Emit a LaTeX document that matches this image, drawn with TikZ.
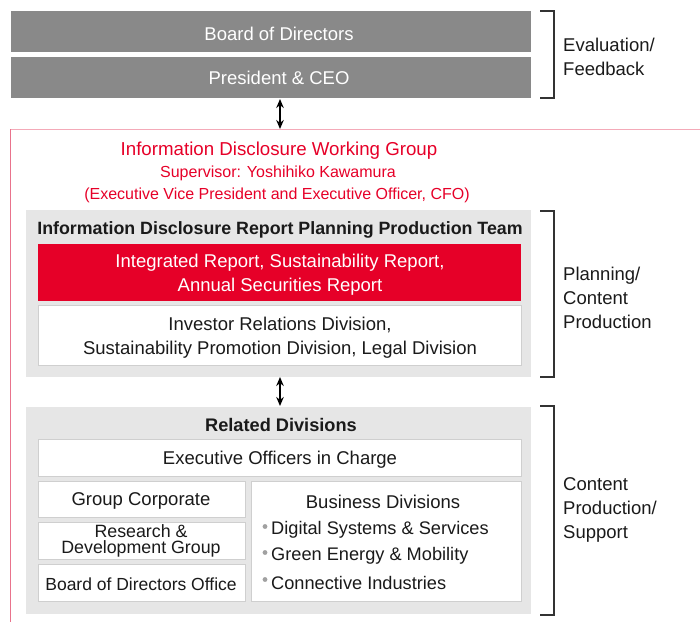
\documentclass[tikz,border=0pt]{standalone}
\usepackage{fontspec}
\setmainfont{Liberation Sans}
\usetikzlibrary{arrows.meta}
\definecolor{hgray}{HTML}{898989}
\definecolor{panelgray}{HTML}{E6E6E6}
\definecolor{boxline}{HTML}{CFCFCF}
\definecolor{hred}{HTML}{E60028}
\definecolor{pinktop}{HTML}{F4AAB8}
\definecolor{pinkleft}{HTML}{E9738C}
\definecolor{txt}{HTML}{1A1A1A}
\tikzset{
  x=1pt, y=-1pt,
  mainfont/.style={font=\fontsize{18.5}{24}\selectfont},
  subfont/.style={font=\fontsize{16}{22}\selectfont},
  boldfont/.style={font=\bfseries\fontsize{17.8}{22}\selectfont},
  graybox/.style={fill=hgray, draw=none},
  panel/.style={fill=panelgray, draw=none},
  whitebox/.style={fill=white, draw=boxline, line width=0.8pt},
  redbox/.style={fill=hred, draw=none},
  bracketline/.style={draw=black!80, line width=1.1pt},
  dblarrow/.style={{Stealth[length=9pt,width=7.5pt]}-{Stealth[length=9pt,width=7.5pt]}, line width=1.5pt, black},
  lbl/.style={mainfont, text=txt, inner sep=0pt},
  rlbl/.style={mainfont, text=txt, inner sep=0pt, anchor=west, align=left},
  dotb/.style={fill=hgray!80, draw=none}
}
\begin{document}
\begin{tikzpicture}
\useasboundingbox (0,0) rectangle (700,622);
% top gray boxes
\draw[graybox] (11,11) rectangle (531,52);
\draw[graybox] (11,57) rectangle (531,98);
\node[lbl, text=white] (bod) at (279,34) {Board of Directors};
\node[lbl, text=white] (ceo) at (279,78) {President \& CEO};
\coordinate (ceoB) at (280,99);
% bracket 1
\draw[bracketline] (540,11) -- (554,11) -- (554,98) -- (540,98);
\node[rlbl] (evl) at (563,57) {Evaluation/\\Feedback};
% pink frame
\draw[pinktop, line width=1.2pt] (10,129.5) -- (700,129.5);
\draw[pinkleft, line width=1.2pt] (10.5,129) -- (10.5,622);
\coordinate (frameT) at (280,129);
\draw[dblarrow] (ceoB) -- (frameT);
% working group texts
\node[font=\fontsize{18.7}{24}\selectfont, text=hred, inner sep=0pt] (wg) at (279,151) {Information Disclosure Working Group};
\node[subfont, text=hred, inner sep=0pt] (sup) at (278,173) {Supervisor: Yoshihiko Kawamura};
\node[subfont, text=hred, inner sep=0pt] (evp) at (277,195) {(Executive Vice President and Executive Officer, CFO)};
% panel 1
\draw[panel] (26,210) rectangle (531,377);
\node[boldfont, text=txt, inner sep=0pt] (team) at (280,230) {Information Disclosure Report Planning Production Team};
\draw[redbox] (38,244) rectangle (521,301);
\node[lbl, text=white, align=center] (rep) at (280,275) {Integrated Report, Sustainability Report,\\Annual Securities Report};
\draw[whitebox] (38,305) rectangle (521,365);
\node[lbl, align=center] (irdiv) at (280,338) {Investor Relations Division,\\Sustainability Promotion Division, Legal Division};
% bracket 2
\draw[bracketline] (540,211) -- (554,211) -- (554,377) -- (540,377);
\node[rlbl] (plan) at (563,298) {Planning/\\Content\\Production};
% arrow 2
\coordinate (p1B) at (280,377);
\coordinate (p2T) at (280,406);
\draw[dblarrow] (p1B) -- (p2T);
% panel 2
\draw[panel] (26,407) rectangle (531,614);
\node[boldfont, text=txt, inner sep=0pt, font=\bfseries\fontsize{18.2}{22}\selectfont] (rel) at (281,425) {Related Divisions};
\draw[whitebox] (38,439) rectangle (521,476);
\node[lbl] (exec) at (280,460) {Executive Officers in Charge};
\draw[whitebox] (38,481) rectangle (245,517);
\node[lbl] (gc) at (141,501) {Group Corporate};
\draw[whitebox] (38,522) rectangle (245,559);
\node[lbl, align=center, font=\fontsize{17.8}{16.5}\selectfont] (rd) at (141,541) {Research \&\\Development Group};
\draw[whitebox] (38,564) rectangle (245,601);
\node[lbl, font=\fontsize{17.5}{22}\selectfont] (bdo) at (141,584) {Board of Directors Office};
\draw[whitebox] (251,481) rectangle (521,601);
\node[lbl] (bdiv) at (383,502) {Business Divisions};
\node[lbl, anchor=west, font=\fontsize{18.2}{22}\selectfont] (dss) at (271,530) {Digital Systems \& Services};
\node[lbl, anchor=west, font=\fontsize{18.2}{22}\selectfont] (gem) at (271,556) {Green Energy \& Mobility};
\node[lbl, anchor=west, font=\fontsize{18.2}{22}\selectfont] (ci) at (271,583) {Connective Industries};
\fill[dotb] (265,526.5) circle (2.4);
\fill[dotb] (265,552.5) circle (2.4);
\fill[dotb] (265,579.5) circle (2.4);
% bracket 3
\draw[bracketline] (540,406) -- (554,406) -- (554,615) -- (540,615);
\node[rlbl] (cps) at (563,510) {Content\\Production/\\Support};
\end{tikzpicture}
\end{document}
